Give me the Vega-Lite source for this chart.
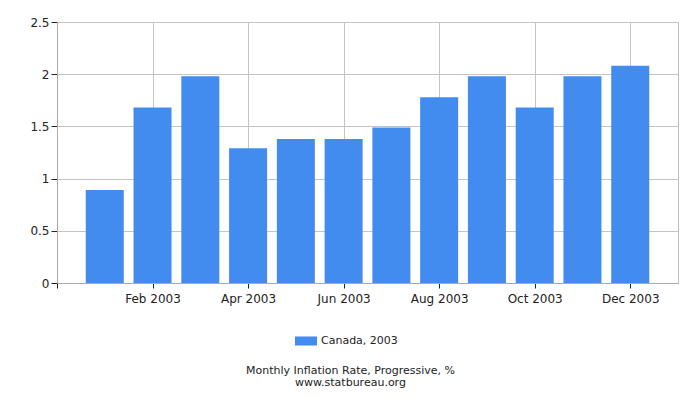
{
  "$schema": "https://vega.github.io/schema/vega-lite/v6.json",
  "width": 621,
  "height": 261,
  "autosize": {"type": "none"},
  "padding": {"left": 57, "top": 22, "right": 22, "bottom": 117},
  "background": "white",
  "data": {
    "values": [
      {"month": 1, "value": 0.89, "series": "Canada, 2003"},
      {"month": 2, "value": 1.68, "series": "Canada, 2003"},
      {"month": 3, "value": 1.98, "series": "Canada, 2003"},
      {"month": 4, "value": 1.29, "series": "Canada, 2003"},
      {"month": 5, "value": 1.38, "series": "Canada, 2003"},
      {"month": 6, "value": 1.38, "series": "Canada, 2003"},
      {"month": 7, "value": 1.49, "series": "Canada, 2003"},
      {"month": 8, "value": 1.78, "series": "Canada, 2003"},
      {"month": 9, "value": 1.98, "series": "Canada, 2003"},
      {"month": 10, "value": 1.68, "series": "Canada, 2003"},
      {"month": 11, "value": 1.98, "series": "Canada, 2003"},
      {"month": 12, "value": 2.08, "series": "Canada, 2003"}
    ]
  },
  "title": {
    "text": ["Monthly Inflation Rate, Progressive, %", "www.statbureau.org"],
    "orient": "bottom",
    "anchor": "middle",
    "font": "DejaVu Sans",
    "fontSize": 11,
    "fontWeight": "normal",
    "color": "#222",
    "lineHeight": 11.5,
    "offset": 19,
    "dx": -17
  },
  "mark": {"type": "bar", "width": 38},
  "encoding": {
    "x": {
      "field": "month",
      "type": "quantitative",
      "scale": {"domain": [0, 13], "nice": false, "zero": false, "padding": 0},
      "axis": {
        "title": null,
        "values": [0, 2, 4, 6, 8, 10, 12],
        "labelExpr": "datum.value == 0 ? '' : ['','Jan','Feb','Mar','Apr','May','Jun','Jul','Aug','Sep','Oct','Nov','Dec'][datum.value] + ' 2003'",
        "labelPadding": 5,
        "tickSize": 5
      }
    },
    "y": {
      "field": "value",
      "type": "quantitative",
      "scale": {"domain": [0, 2.5], "nice": false, "padding": 0},
      "axis": {
        "title": null,
        "values": [0, 0.5, 1, 1.5, 2, 2.5],
        "format": "~g",
        "tickSize": 6,
        "labelPadding": 2
      }
    },
    "color": {
      "field": "series",
      "type": "nominal",
      "scale": {"range": ["#428BEF"]},
      "legend": {
        "title": null,
        "orient": "none",
        "legendX": 238,
        "legendY": 308,
        "direction": "horizontal",
        "symbolType": "M-1,-0.41H1V0.41H-1Z",
        "symbolSize": 484,
        "symbolStrokeWidth": 0,
        "labelFont": "DejaVu Sans",
        "labelFontSize": 11,
        "labelColor": "#222",
        "labelOffset": 4
      }
    }
  },
  "config": {
    "view": {"stroke": "#bbb"},
    "axis": {
      "labelFont": "DejaVu Sans",
      "labelFontSize": 12,
      "labelColor": "#222",
      "domainColor": "#aaa",
      "tickColor": "#222",
      "gridColor": "#c4c4c4",
      "grid": true
    }
  }
}
